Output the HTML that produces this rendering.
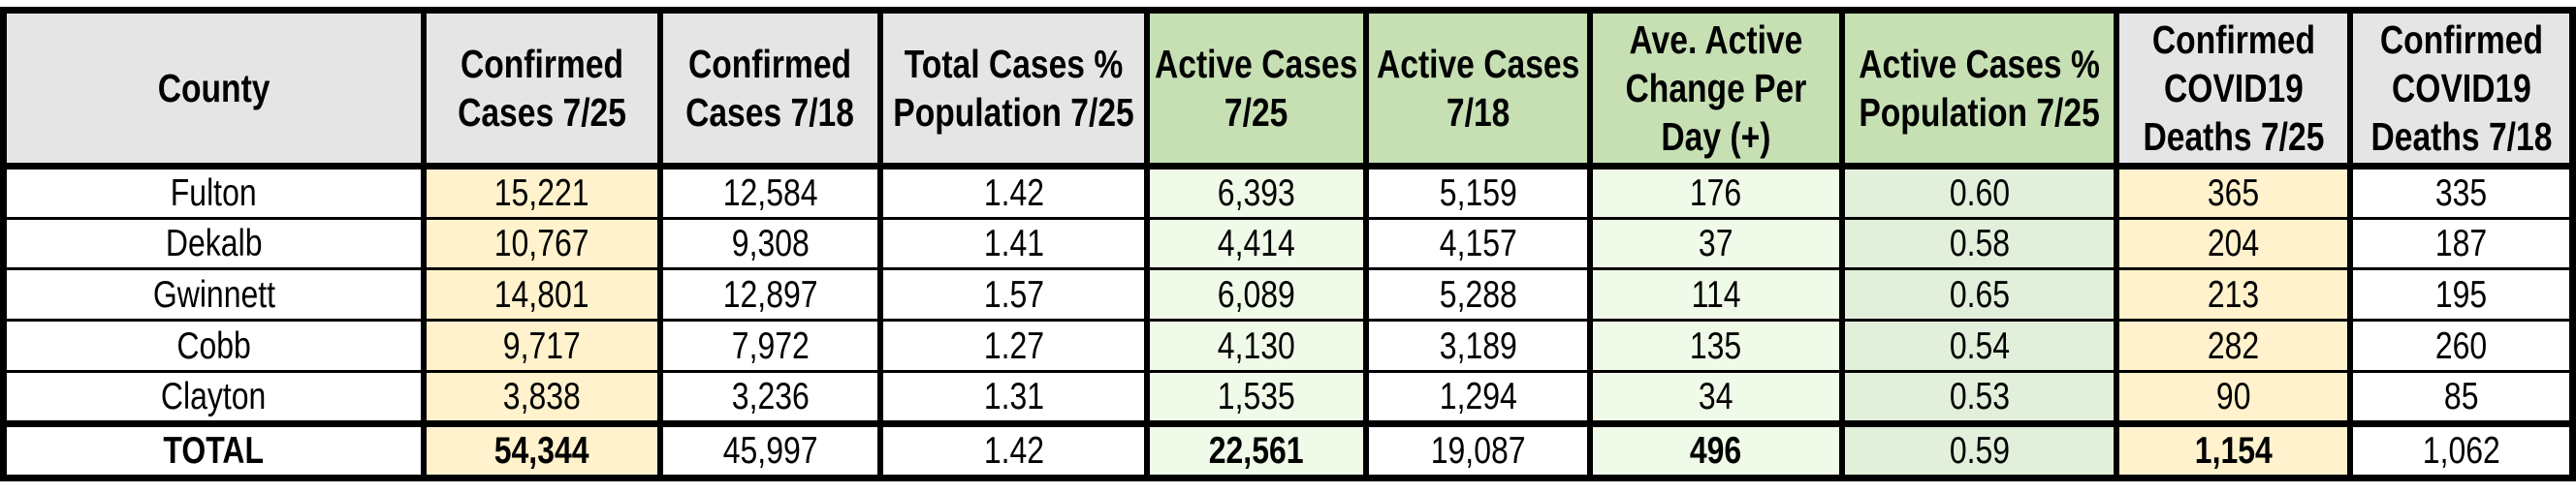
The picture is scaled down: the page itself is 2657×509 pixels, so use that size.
<!DOCTYPE html>
<html><head><meta charset="utf-8"><style>
html,body{margin:0;padding:0;background:#fff;width:2657px;height:509px;overflow:hidden}
.g{position:absolute;left:0;top:7px;width:2643px;height:476px;padding:7px;background:#000;display:grid;
grid-template-columns:427px 238px 221px 269px 220px 225px 254px 277px 235px 223px;column-gap:6px;row-gap:3px;
grid-template-rows:158px 49px 49px 50px 50px 49px 53px;
font-family:"Liberation Sans",sans-serif;color:#000}
.g>div{display:flex;align-items:center;justify-content:center;text-align:center;background:#fff;font-size:39px;line-height:1;overflow:visible}
.g>div>span{display:inline-block;white-space:nowrap;transform:scaleX(.82);transform-origin:center}
.h{height:154px;align-self:start;font-weight:bold;font-size:41px!important;line-height:50px!important;background:#e6e5e6!important}
.hg{background:#c6e0b4!important}
.t{height:49px;align-self:end}
.b{font-weight:bold}
.y{background:#fff2cc!important}
.lg{background:#f0fae8!important}
.mg{background:#e2efda!important}
</style></head><body>
<div class="g">
<div class="h"><span>County</span></div>
<div class="h"><span>Confirmed<br>Cases 7/25</span></div>
<div class="h"><span>Confirmed<br>Cases 7/18</span></div>
<div class="h"><span>Total Cases %<br>Population 7/25</span></div>
<div class="h hg"><span>Active Cases<br>7/25</span></div>
<div class="h hg"><span>Active Cases<br>7/18</span></div>
<div class="h hg"><span>Ave. Active<br>Change Per<br>Day (+)</span></div>
<div class="h hg"><span>Active Cases %<br>Population 7/25</span></div>
<div class="h"><span>Confirmed<br>COVID19<br>Deaths 7/25</span></div>
<div class="h"><span>Confirmed<br>COVID19<br>Deaths 7/18</span></div>

<div><span>Fulton</span></div><div class="y"><span>15,221</span></div><div><span>12,584</span></div><div><span>1.42</span></div><div class="lg"><span>6,393</span></div><div><span>5,159</span></div><div class="lg"><span>176</span></div><div class="mg"><span>0.60</span></div><div class="y"><span>365</span></div><div><span>335</span></div>
<div><span>Dekalb</span></div><div class="y"><span>10,767</span></div><div><span>9,308</span></div><div><span>1.41</span></div><div class="lg"><span>4,414</span></div><div><span>4,157</span></div><div class="lg"><span>37</span></div><div class="mg"><span>0.58</span></div><div class="y"><span>204</span></div><div><span>187</span></div>
<div><span>Gwinnett</span></div><div class="y"><span>14,801</span></div><div><span>12,897</span></div><div><span>1.57</span></div><div class="lg"><span>6,089</span></div><div><span>5,288</span></div><div class="lg"><span>114</span></div><div class="mg"><span>0.65</span></div><div class="y"><span>213</span></div><div><span>195</span></div>
<div><span>Cobb</span></div><div class="y"><span>9,717</span></div><div><span>7,972</span></div><div><span>1.27</span></div><div class="lg"><span>4,130</span></div><div><span>3,189</span></div><div class="lg"><span>135</span></div><div class="mg"><span>0.54</span></div><div class="y"><span>282</span></div><div><span>260</span></div>
<div><span>Clayton</span></div><div class="y"><span>3,838</span></div><div><span>3,236</span></div><div><span>1.31</span></div><div class="lg"><span>1,535</span></div><div><span>1,294</span></div><div class="lg"><span>34</span></div><div class="mg"><span>0.53</span></div><div class="y"><span>90</span></div><div><span>85</span></div>

<div class="t b"><span>TOTAL</span></div><div class="t b y"><span>54,344</span></div><div class="t"><span>45,997</span></div><div class="t"><span>1.42</span></div><div class="t b lg"><span>22,561</span></div><div class="t"><span>19,087</span></div><div class="t b lg"><span>496</span></div><div class="t mg"><span>0.59</span></div><div class="t b y"><span>1,154</span></div><div class="t"><span>1,062</span></div>
</div>
</body></html>
